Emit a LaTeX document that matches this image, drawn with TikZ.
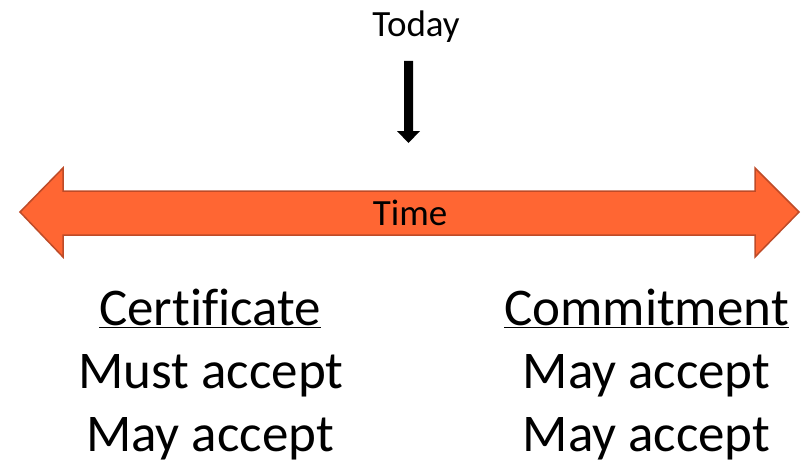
\documentclass[tikz,border=0pt]{standalone}
\usepackage{fontspec}
\setmainfont{Carlito}[Ligatures=NoCommon]
\definecolor{arrfill}{RGB}{255,102,51}
\definecolor{arrdraw}{RGB}{190,75,40}
\begin{document}
\begin{tikzpicture}[x=1pt,y=-1pt,
  small/.style={font=\fontsize{37}{44}\selectfont, inner sep=0pt, anchor=base},
  big/.style={font=\fontsize{53}{62}\selectfont, inner sep=0pt, anchor=base}]
\useasboundingbox (0,0) rectangle (806,460);
% double arrow
\draw[fill=arrfill, draw=arrdraw, line width=1.5pt, line join=miter]
  (20,212) -- (63,168) -- (63,191) -- (755,191) -- (755,168) -- (799,212)
  -- (755,257) -- (755,235) -- (63,235) -- (63,257) -- cycle;
\node[small] (time) at (410,225) {Time};
% today
\node[small] (today) at (416,37) {Today};
\fill[black] (404,61) -- (413,61) -- (413,131) -- (420,131) -- (408.5,143) -- (397,131) -- (404,131) -- cycle;
% columns
\node[big] (cert) at (210,325) {\underline{Certificate}};
\node[big] (c1) at (211,388) {Must accept};
\node[big] (c2) at (210,451) {May accept};
\node[big] (comm) at (646.5,325) {\underline{Commitment}};
\node[big] (m1) at (646.5,388) {May accept};
\node[big] (m2) at (646.5,451) {May accept};
\end{tikzpicture}
\end{document}
